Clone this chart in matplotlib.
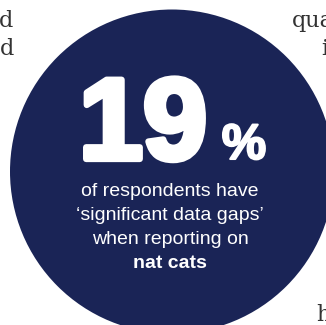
import matplotlib
matplotlib.use("Agg")
import matplotlib.pyplot as plt
from matplotlib.patches import Circle
import matplotlib.patheffects as pe

# Values shown in the graphic
stat_value = 19
stat_unit = "%"
caption_lines = ["of respondents have", "\u2018significant data gaps\u2019", "when reporting on"]
caption_bold = "nat cats"
# fragments of surrounding body text cut off at the edges
edge_words_left = ["d", "d"]
edge_words_right = ["qua", "i"]
edge_word_bottom = "h"

NAVY = "#1a2456"
W, H = 326, 325

fig = plt.figure(figsize=(W / 100, H / 100), dpi=100)
ax = fig.add_axes([0, 0, 1, 1])
ax.set_xlim(0, W)
ax.set_ylim(H, 0)
ax.set_aspect("equal")
ax.axis("off")

ax.add_patch(Circle((172, 171.5), 162, color=NAVY, lw=0))

# big number, thickened with a stroke to look like a black weight
big = ax.text(143, 159, str(stat_value), ha="center", va="baseline",
              fontsize=83, fontweight="bold", family="Liberation Sans",
              color="white")
big.set_path_effects([pe.withStroke(linewidth=4.5, foreground="white")])
pct = ax.text(244, 159, stat_unit, ha="center", va="baseline", fontsize=36,
              fontweight="bold", family="Liberation Sans", color="white")
pct.set_path_effects([pe.withStroke(linewidth=1.5, foreground="white")])

sans = "Liberation Sans"
for i, line in enumerate(caption_lines):
    ax.text(170, 196 + i * 24, line, ha="center", va="baseline",
            fontsize=14, family=sans, color="white")
ax.text(170, 196 + 3 * 24, caption_bold, ha="center", va="baseline",
        fontsize=14, fontweight="bold", family=sans, color="white")

serif = "DejaVu Serif"
grey = "#333333"
ax.text(13, 27, edge_words_left[0], ha="right", va="baseline",
        fontsize=16, family=serif, color=grey)
ax.text(14, 55, edge_words_left[1], ha="right", va="baseline",
        fontsize=16, family=serif, color=grey)
ax.text(292, 27, edge_words_right[0], ha="left", va="baseline",
        fontsize=16, family=serif, color=grey)
ax.text(321, 55, edge_words_right[1], ha="left", va="baseline",
        fontsize=16, family=serif, color=grey)
ax.text(316, 321, edge_word_bottom, ha="left", va="baseline",
        fontsize=16, family=serif, color=grey)

fig.savefig("out.png", dpi=100, facecolor="white")
